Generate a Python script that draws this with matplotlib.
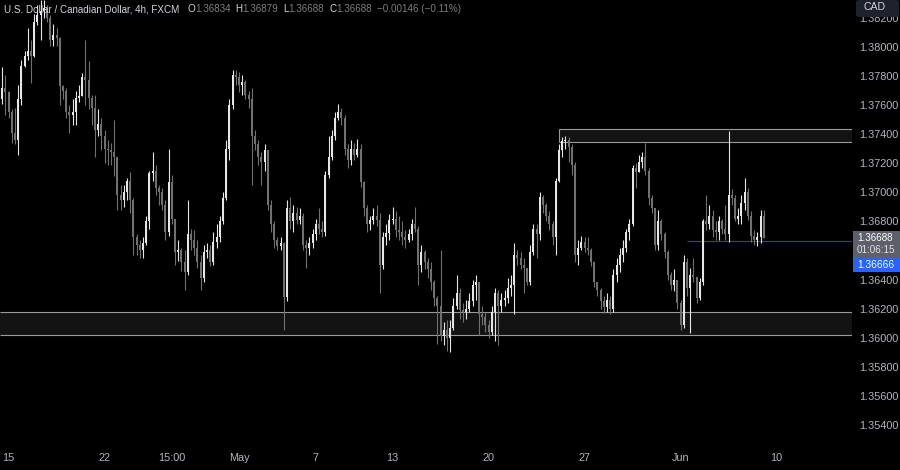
import numpy as np
import matplotlib.pyplot as plt
from matplotlib.patches import Rectangle, FancyBboxPatch

plt.rcParams['font.family'] = ['Liberation Sans', 'DejaVu Sans']

# USDCAD 4h candles, index 0 = Apr 15 00:00 (30 bars a week)
first_open = 1.3764
close = [
    1.3772, 1.3769, 1.3755, 1.3741, 1.3736, 1.3764, 1.3787, 1.3794, 1.3797, 1.3794,
    1.3817, 1.3822, 1.3825, 1.3827, 1.3820, 1.3805, 1.3808, 1.3806, 1.3773, 1.3770,
    1.3755, 1.3753, 1.3755, 1.3765, 1.3766, 1.3779, 1.3777, 1.3765, 1.3758, 1.3743,
    1.3747, 1.3739, 1.3730, 1.3729, 1.3728, 1.3724, 1.3698, 1.3695, 1.3700, 1.3708,
    1.3695, 1.3669, 1.3664, 1.3660, 1.3665, 1.3680, 1.3713, 1.3715, 1.3703, 1.3700,
    1.3691, 1.3673, 1.3707, 1.3682, 1.3659, 1.3660, 1.3652, 1.3645, 1.3671, 1.3667,
    1.3662, 1.3652, 1.3641, 1.3659, 1.3660, 1.3652, 1.3666, 1.3669, 1.3680, 1.3696,
    1.3730, 1.3760, 1.3781, 1.3779, 1.3774, 1.3776, 1.3767, 1.3764, 1.3739, 1.3733,
    1.3724, 1.3721, 1.3729, 1.3691, 1.3678, 1.3667, 1.3663, 1.3665, 1.3628, 1.3689,
    1.3680, 1.3686, 1.3681, 1.3684, 1.3664, 1.3662, 1.3665, 1.3671, 1.3678, 1.3675,
    1.3673, 1.3712, 1.3724, 1.3739, 1.3751, 1.3755, 1.3751, 1.3730, 1.3722, 1.3730,
    1.3726, 1.3730, 1.3707, 1.3689, 1.3678, 1.3681, 1.3684, 1.3681, 1.3650, 1.3669,
    1.3672, 1.3681, 1.3682, 1.3674, 1.3673, 1.3669, 1.3667, 1.3671, 1.3678, 1.3675,
    1.3650, 1.3659, 1.3652, 1.3647, 1.3638, 1.3627, 1.3622, 1.3601, 1.3605, 1.3600,
    1.3607, 1.3622, 1.3631, 1.3619, 1.3618, 1.3620, 1.3625, 1.3636, 1.3638, 1.3616,
    1.3614, 1.3609, 1.3604, 1.3618, 1.3631, 1.3622, 1.3626, 1.3627, 1.3634, 1.3636,
    1.3657, 1.3655, 1.3650, 1.3648, 1.3638, 1.3659, 1.3675, 1.3671, 1.3697, 1.3691,
    1.3684, 1.3678, 1.3669, 1.3708, 1.3729, 1.3735, 1.3736, 1.3731, 1.3719, 1.3657,
    1.3662, 1.3666, 1.3662, 1.3660, 1.3652, 1.3638, 1.3633, 1.3625, 1.3621, 1.3626,
    1.3620, 1.3643, 1.3650, 1.3657, 1.3662, 1.3673, 1.3678, 1.3717, 1.3714, 1.3721,
    1.3724, 1.3715, 1.3696, 1.3689, 1.3664, 1.3680, 1.3671, 1.3659, 1.3643, 1.3636,
    1.3640, 1.3624, 1.3609, 1.3652, 1.3634, 1.3643, 1.3642, 1.3627, 1.3638, 1.3680,
    1.3678, 1.3684, 1.3674, 1.3673, 1.3680, 1.3675, 1.3671, 1.3698, 1.3696, 1.3682,
    1.3684, 1.3693, 1.3700, 1.3684, 1.3670, 1.3667, 1.3669, 1.36834, 1.36688,
]
high = [
    1.3786, 1.3781, 1.3770, 1.3757, 1.3758, 1.3774, 1.3791, 1.3797, 1.3813, 1.3805,
    1.3823, 1.3829, 1.3832, 1.3832, 1.3829, 1.3822, 1.3816, 1.3813, 1.3807, 1.3774,
    1.3772, 1.3760, 1.3764, 1.3770, 1.3774, 1.3782, 1.3805, 1.3790, 1.3767, 1.3767,
    1.3757, 1.3751, 1.3743, 1.3736, 1.3734, 1.3750, 1.3712, 1.3705, 1.3705, 1.3710,
    1.3714, 1.3696, 1.3671, 1.3667, 1.3669, 1.3684, 1.3715, 1.3728, 1.3719, 1.3705,
    1.3703, 1.3695, 1.3730, 1.3712, 1.3682, 1.3667, 1.3662, 1.3660, 1.3695, 1.3675,
    1.3674, 1.3667, 1.3657, 1.3664, 1.3665, 1.3664, 1.3673, 1.3678, 1.3684, 1.3700,
    1.3736, 1.3764, 1.3784, 1.3784, 1.3783, 1.3781, 1.3777, 1.3770, 1.3772, 1.3743,
    1.3736, 1.3728, 1.3733, 1.3729, 1.3695, 1.3680, 1.3669, 1.3669, 1.3666, 1.3695,
    1.3697, 1.3691, 1.3690, 1.3689, 1.3686, 1.3667, 1.3669, 1.3675, 1.3682, 1.3689,
    1.3680, 1.3715, 1.3739, 1.3743, 1.3755, 1.3761, 1.3758, 1.3753, 1.3733, 1.3736,
    1.3734, 1.3737, 1.3733, 1.3708, 1.3691, 1.3684, 1.3689, 1.3691, 1.3686, 1.3673,
    1.3678, 1.3685, 1.3690, 1.3687, 1.3684, 1.3680, 1.3674, 1.3675, 1.3682, 1.3690,
    1.3677, 1.3664, 1.3660, 1.3655, 1.3652, 1.3640, 1.3629, 1.3660, 1.3611, 1.3612,
    1.3612, 1.3627, 1.3643, 1.3634, 1.3624, 1.3626, 1.3631, 1.3640, 1.3643, 1.3638,
    1.3622, 1.3618, 1.3612, 1.3622, 1.3634, 1.3633, 1.3631, 1.3633, 1.3641, 1.3643,
    1.3665, 1.3660, 1.3659, 1.3655, 1.3648, 1.3664, 1.3678, 1.3678, 1.3700, 1.3698,
    1.3693, 1.3687, 1.3680, 1.3710, 1.3733, 1.3738, 1.3739, 1.3738, 1.3733, 1.3721,
    1.3667, 1.3670, 1.3669, 1.3669, 1.3662, 1.3653, 1.3638, 1.3634, 1.3629, 1.3631,
    1.3629, 1.3647, 1.3655, 1.3662, 1.3667, 1.3675, 1.3682, 1.3719, 1.3720, 1.3726,
    1.3728, 1.3734, 1.3717, 1.3698, 1.3689, 1.3688, 1.3682, 1.3673, 1.3660, 1.3645,
    1.3647, 1.3634, 1.3626, 1.3657, 1.3655, 1.3648, 1.3655, 1.3640, 1.3641, 1.3682,
    1.3698, 1.3691, 1.3688, 1.3680, 1.3684, 1.3682, 1.3691, 1.3742, 1.3702, 1.3698,
    1.3689, 1.3698, 1.3710, 1.3703, 1.3687, 1.3674, 1.3673, 1.3688, 1.36879,
]
low = [
    1.3761, 1.3753, 1.3751, 1.3734, 1.3733, 1.3726, 1.3760, 1.3786, 1.3791, 1.3775,
    1.3793, 1.3815, 1.3805, 1.3820, 1.3817, 1.3801, 1.3801, 1.3801, 1.3760, 1.3764,
    1.3751, 1.3741, 1.3746, 1.3746, 1.3762, 1.3766, 1.3760, 1.3757, 1.3746, 1.3724,
    1.3739, 1.3729, 1.3720, 1.3719, 1.3719, 1.3711, 1.3688, 1.3688, 1.3690, 1.3695,
    1.3686, 1.3657, 1.3657, 1.3655, 1.3655, 1.3664, 1.3675, 1.3708, 1.3698, 1.3691,
    1.3688, 1.3667, 1.3670, 1.3678, 1.3650, 1.3653, 1.3646, 1.3633, 1.3643, 1.3660,
    1.3657, 1.3648, 1.3633, 1.3638, 1.3655, 1.3649, 1.3650, 1.3662, 1.3666, 1.3678,
    1.3695, 1.3722, 1.3757, 1.3774, 1.3769, 1.3767, 1.3764, 1.3758, 1.3705, 1.3729,
    1.3719, 1.3705, 1.3715, 1.3688, 1.3673, 1.3662, 1.3660, 1.3660, 1.3605, 1.3625,
    1.3675, 1.3673, 1.3678, 1.3678, 1.3660, 1.3648, 1.3657, 1.3662, 1.3667, 1.3671,
    1.3669, 1.3670, 1.3710, 1.3722, 1.3736, 1.3750, 1.3746, 1.3726, 1.3717, 1.3719,
    1.3722, 1.3724, 1.3704, 1.3684, 1.3673, 1.3674, 1.3678, 1.3677, 1.3631, 1.3647,
    1.3664, 1.3667, 1.3678, 1.3669, 1.3667, 1.3664, 1.3662, 1.3666, 1.3667, 1.3673,
    1.3636, 1.3645, 1.3647, 1.3641, 1.3633, 1.3622, 1.3596, 1.3598, 1.3595, 1.3591,
    1.3590, 1.3605, 1.3620, 1.3613, 1.3611, 1.3613, 1.3618, 1.3622, 1.3626, 1.3602,
    1.3609, 1.3604, 1.3600, 1.3602, 1.3598, 1.3595, 1.3618, 1.3622, 1.3624, 1.3629,
    1.3616, 1.3650, 1.3647, 1.3631, 1.3636, 1.3636, 1.3657, 1.3655, 1.3667, 1.3686,
    1.3680, 1.3674, 1.3664, 1.3657, 1.3707, 1.3724, 1.3730, 1.3721, 1.3712, 1.3652,
    1.3650, 1.3660, 1.3659, 1.3657, 1.3649, 1.3635, 1.3629, 1.3620, 1.3617, 1.3618,
    1.3616, 1.3618, 1.3638, 1.3645, 1.3652, 1.3659, 1.3667, 1.3677, 1.3703, 1.3714,
    1.3717, 1.3712, 1.3691, 1.3686, 1.3660, 1.3660, 1.3667, 1.3655, 1.3640, 1.3633,
    1.3632, 1.3620, 1.3605, 1.3607, 1.3629, 1.3603, 1.3638, 1.3624, 1.3626, 1.3636,
    1.3674, 1.3675, 1.3669, 1.3667, 1.3667, 1.3671, 1.3667, 1.3666, 1.3691, 1.3680,
    1.3678, 1.3678, 1.3688, 1.3681, 1.3666, 1.3664, 1.3663, 1.3665, 1.36688,
]

tick_pos = [0, 30, 51, 72, 96, 120, 150, 180, 210, 240]
tick_text = ["15", "22", "15:00", "May", "7", "13", "20", "27", "Jun", "10"]
# 1.36600 sits under the live price tags, so it has no label
price_ticks = [1.354, 1.356, 1.358, 1.360, 1.362, 1.364, 1.368,
               1.370, 1.372, 1.374, 1.376, 1.378, 1.380, 1.382]

support_zone = (1.36019, 1.36179)
resist_zone = (1.37345, 1.37436)
resist_start = 172
level = 1.36666
level_start = 212

W, H = 900, 470
BG = '#000000'
UP = '#e6e6e6'
DOWN = '#707070'
TXT = '#b2b5be'

idx = np.arange(-2, -2 + len(close))
c = np.array(close)
o = np.r_[first_open, c[:-1]]
h = np.maximum.reduce([np.array(high), o, c])
l = np.minimum.reduce([np.array(low), o, c])
cols = np.where(c >= o, UP, DOWN)

fig = plt.figure(figsize=(W / 100, H / 100), dpi=100, facecolor=BG)
ax = fig.add_axes([0, 25 / H, 852 / W, 445 / H], facecolor=BG)
x0, x1 = -2.69, 263.56
ax.set_xlim(x0, x1)
ax.set_ylim(1.35262, 1.38323)

# zones
ax.add_patch(Rectangle((x0, support_zone[0]), x1 - x0, support_zone[1] - support_zone[0],
                       facecolor='#131313', edgecolor='none', zorder=1))
ax.hlines(support_zone, x0, x1, colors='#9a9a9a', lw=0.8, zorder=2)
ax.add_patch(Rectangle((resist_start, resist_zone[0]), x1 - resist_start,
                       resist_zone[1] - resist_zone[0],
                       facecolor='#131313', edgecolor='none', zorder=1))
ax.hlines(resist_zone, resist_start, x1, colors='#9a9a9a', lw=0.8, zorder=2)
ax.vlines(resist_start, *resist_zone, colors='#9a9a9a', lw=0.8, zorder=2)
ax.hlines(level, level_start, x1, colors='#363c8c', lw=0.9, zorder=2)

# candles
ax.vlines(idx, l, h, colors=cols, lw=0.8, zorder=3)
ax.bar(idx, np.maximum(np.abs(c - o), 1.5e-5), bottom=np.minimum(o, c),
       width=0.62, color=cols, linewidth=0, zorder=4)

for s in ax.spines.values():
    s.set_visible(False)
ax.yaxis.tick_right()
ax.set_yticks(price_ticks, [f"{v:.5f}" for v in price_ticks])
ax.set_xticks(tick_pos, tick_text)
ax.tick_params(axis='y', length=0, pad=5, labelsize=7.8, labelcolor=TXT)
ax.tick_params(axis='x', length=0, pad=6, labelsize=7.8, labelcolor=TXT)

# right side price tags
fig.patches.append(Rectangle((853 / W, 1 - 257 / H), 47 / W, 26 / H,
                             transform=fig.transFigure, facecolor='#5d606b',
                             edgecolor='none', zorder=5))
fig.text(857 / W, 1 - 237.5 / H, "1.36688", color='white', fontsize=7.1, va='center', zorder=6)
fig.text(857 / W, 1 - 250 / H, "01:06:15", color='#e0e0e0', fontsize=7.1, va='center', zorder=6)
fig.patches.append(Rectangle((853 / W, 1 - 272 / H), 47 / W, 15 / H,
                             transform=fig.transFigure, facecolor='#2962ff',
                             edgecolor='none', zorder=5))
fig.text(857 / W, 1 - 264.5 / H, "1.36666", color='white', fontsize=7.4, va='center', zorder=6)
fig.patches.append(FancyBboxPatch((856 / W, 1 - 17 / H), 43 / W, 17 / H,
                                  boxstyle="round,pad=0,rounding_size=0.004",
                                  transform=fig.transFigure, facecolor='#1e222d',
                                  edgecolor='none', zorder=5))
fig.text(864 / W, 1 - 7 / H, "CAD", color='#d1d4dc', fontsize=7.6, va='center', zorder=6)

# legend line at top left
renderer = fig.canvas.get_renderer()
parts = [("U.S. Dollar / Canadian Dollar, 4h, FXCM", '#d1d4dc', 8),
         ("O", '#d1d4dc', 0), ("1.36834", '#7d7d7d', 5),
         ("H", '#d1d4dc', 0), ("1.36879", '#7d7d7d', 5),
         ("L", '#d1d4dc', 0), ("1.36688", '#7d7d7d', 5),
         ("C", '#d1d4dc', 0), ("1.36688", '#7d7d7d', 5),
         ("\u22120.00146 (\u22120.11%)", '#7d7d7d', 0)]
xp = 4
for s, col, gap in parts:
    t = fig.text(xp / W, 1 - 9 / H, s, color=col, fontsize=7.1, va='center', zorder=6)
    xp = t.get_window_extent(renderer).x1 + gap

fig.savefig("out.png", dpi=100, facecolor=BG)
